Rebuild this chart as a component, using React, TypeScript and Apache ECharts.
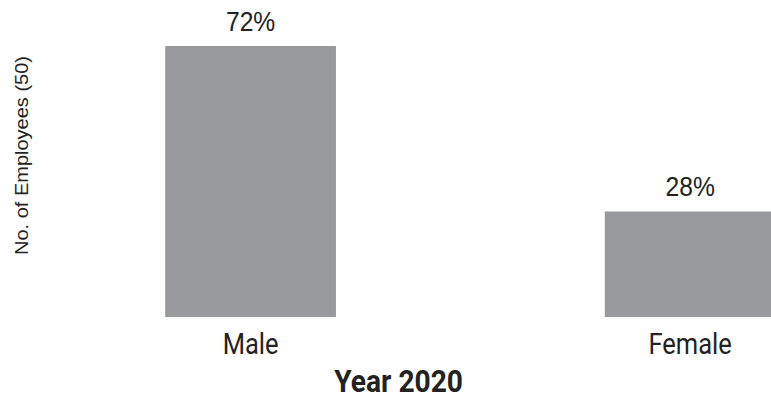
import React, { useEffect, useRef } from "react";
import * as echarts from "echarts";

const categories = ["Male", "Female"];
const values = [72, 28];
const yAxisTitle = "No. of Employees (50)";
const xAxisTitle = "Year 2020";

const SX = 0.88;
const W = 1034;
const H = 399;

export default function App() {
  const ref = useRef<HTMLDivElement>(null);
  useEffect(() => {
    if (!ref.current) return;
    const chart = echarts.init(ref.current, undefined, { renderer: "svg" });
    chart.setOption({
      animation: false,
      grid: { left: 35, top: 46, bottom: 82, right: 0, containLabel: false },
      xAxis: {
        type: "category",
        data: categories,
        axisLine: { show: false },
        axisTick: { show: false },
        axisLabel: {
          margin: 13,
          fontFamily: "Roboto",
          fontSize: 29,
          color: "#222222",
        },
      },
      yAxis: {
        type: "value",
        min: 0,
        max: 72,
        show: false,
        splitLine: { show: false },
      },
      series: [
        {
          type: "bar",
          data: values,
          barWidth: 194,
          itemStyle: { color: "#98999d" },
          label: {
            show: true,
            position: "top",
            distance: 11,
            formatter: "{c}%",
            fontFamily: "Liberation Sans, Arial",
            fontSize: 28,
            color: "#222222",
          },
        },
      ],
      graphic: [
        {
          type: "text",
          x: 25,
          y: 155.5,
          rotation: Math.PI / 2,
          style: {
            text: yAxisTitle,
            fontFamily: "Liberation Sans, Arial",
            fontSize: 20,
            fill: "#222222",
            textAlign: "center",
            textVerticalAlign: "middle",
          },
        },
        {
          type: "text",
          x: 453,
          y: 381,
          style: {
            text: xAxisTitle,
            fontFamily: "Roboto",
            fontWeight: "bold",
            fontSize: 32,
            fill: "#222222",
            textAlign: "center",
            textVerticalAlign: "middle",
          },
        },
      ],
    });
    return () => chart.dispose();
  }, []);
  return (
    <div
      style={{
        position: "absolute",
        left: 0,
        top: 0,
        width: 771,
        height: 399,
        overflow: "hidden",
        background: "#ffffff",
      }}
    >
      <div
        ref={ref}
        style={{
          width: W,
          height: H,
          transform: `scaleX(${SX})`,
          transformOrigin: "0 0",
        }}
      />
    </div>
  );
}
